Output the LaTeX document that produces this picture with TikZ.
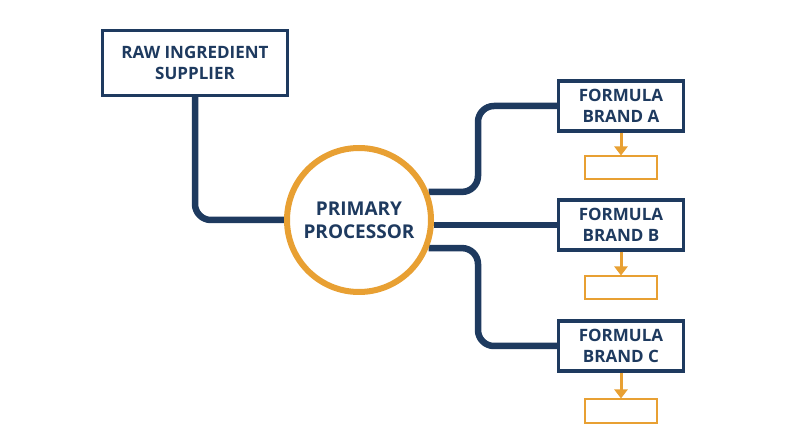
\documentclass[tikz,border=0pt]{standalone}
\usepackage{fontspec}
\setmainfont{Open Sans}
\usetikzlibrary{positioning,calc,arrows.meta,backgrounds}
\definecolor{navy}{HTML}{1E3A5F}
\definecolor{gold}{HTML}{E8A033}
\begin{document}
\begin{tikzpicture}[x=1pt,y=1pt,
  box/.style={draw=navy, line width=3.5pt, fill=white, text=navy, font=\bfseries\fontsize{17}{21}\selectfont, align=center, inner sep=0pt},
  slot/.style={draw=gold, line width=2pt, minimum width=72pt, minimum height=23pt},
  link/.style={draw=navy, line width=6.5pt, rounded corners=16pt},
  feed/.style={draw=gold, line width=3pt, -{Triangle[length=9pt,width=13pt]}}]
\useasboundingbox (0,0) rectangle (800,447);
% nodes
\node[box, minimum width=185pt, minimum height=65pt] (supplier) at (195,384) {RAW INGREDIENT\\SUPPLIER};
\node[box, circle, draw=gold, line width=6pt, minimum size=144pt, font=\bfseries\fontsize{19}{23}\selectfont] (proc) at (359,227) {PRIMARY\\PROCESSOR};
\node[box, minimum width=125pt, minimum height=50pt] (brandA) at (621,341) {FORMULA\\BRAND A};
\node[box, minimum width=125pt, minimum height=50pt] (brandB) at (621,222) {FORMULA\\BRAND B};
\node[box, minimum width=125pt, minimum height=50pt] (brandC) at (621,101) {FORMULA\\BRAND C};
\node[slot] (slotA) at (621,279) {};
\node[slot] (slotB) at (621,159) {};
\node[slot] (slotC) at (621,36) {};
\coordinate (bend) at (478,0);
% connectors
\begin{scope}[on background layer]
\draw[link] (supplier.south) |- (proc.west);
\draw[link] (proc.22) -| (bend|-brandA.west) -- (brandA.west);
\draw[link] (proc.east|-brandB.west) -- (brandB.west);
\draw[link] (proc.-22) -| (bend|-brandC.west) -- (brandC.west);
\end{scope}
\foreach \b in {A,B,C}
  \draw[feed] (brand\b.south) -- (slot\b.north);
\end{tikzpicture}
\end{document}
